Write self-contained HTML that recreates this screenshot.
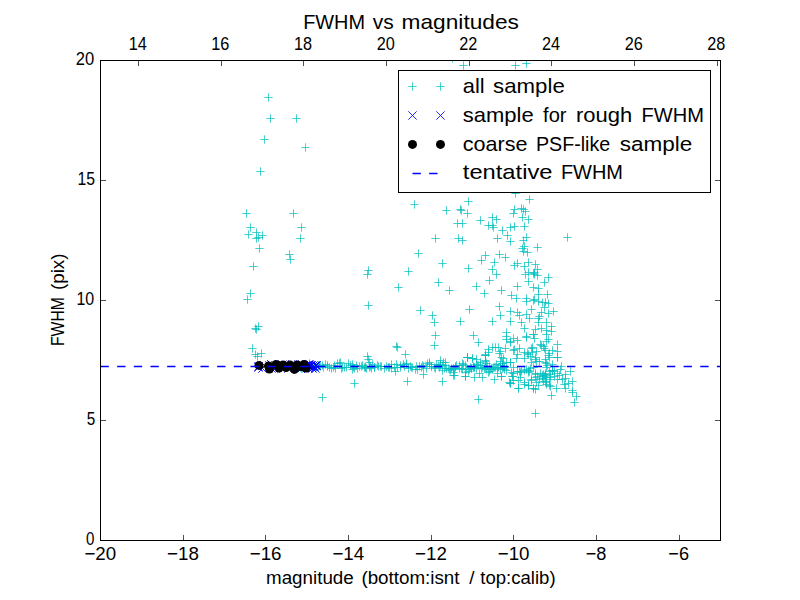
<!DOCTYPE html>
<html><head><meta charset="utf-8"><title>FWHM vs magnitudes</title>
<style>html,body{margin:0;padding:0;background:#fff;width:800px;height:600px;overflow:hidden}svg{display:block}text{font-family:"Liberation Sans",sans-serif}</style>
</head><body>
<svg width="800" height="600" viewBox="0 0 800 600">
<rect width="800" height="600" fill="#fff"/>
<defs><clipPath id="ax"><rect x="100" y="60" width="621" height="481"/></clipPath></defs>
<g clip-path="url(#ax)">
<path d="M264.3 97.5h8.33M268.5 93.3v8.33M266.3 118.5h8.33M270.5 114.3v8.33M292.3 118.5h8.33M296.5 114.3v8.33M260.3 139.5h8.33M264.5 135.3v8.33M301.3 147.5h8.33M305.5 143.3v8.33M256.3 171.5h8.33M260.5 167.3v8.33M242.3 213.5h8.33M246.5 209.3v8.33M289.3 213.5h8.33M293.5 209.3v8.33M246.3 227.5h8.33M250.5 223.3v8.33M297.3 227.5h8.33M301.5 223.3v8.33M244.3 234.5h8.33M248.5 230.3v8.33M252.3 232.5h8.33M256.5 228.3v8.33M258.3 235.5h8.33M262.5 231.3v8.33M252.3 238.5h8.33M256.5 234.3v8.33M254.3 237.5h8.33M258.5 233.3v8.33M296.3 238.5h8.33M300.5 234.3v8.33M255.3 248.5h8.33M259.5 244.3v8.33M285.3 254.5h8.33M289.5 250.3v8.33M286.3 259.5h8.33M290.5 255.3v8.33M249.3 266.5h8.33M253.5 262.3v8.33M246.3 293.5h8.33M250.5 289.3v8.33M243.3 299.5h8.33M247.5 295.3v8.33M254.3 326.5h8.33M258.5 322.3v8.33M251.3 328.5h8.33M255.5 324.3v8.33M252.3 329.5h8.33M256.5 325.3v8.33M248.3 348.5h8.33M252.5 344.3v8.33M257.3 353.5h8.33M261.5 349.3v8.33M251.3 354.5h8.33M255.5 350.3v8.33M253.3 356.5h8.33M257.5 352.3v8.33M363.3 356.5h8.33M367.5 352.3v8.33M364.3 359.5h8.33M368.5 355.3v8.33M365.3 362.5h8.33M369.5 358.3v8.33M350.3 383.5h8.33M354.5 379.3v8.33M318.3 397.5h8.33M322.5 393.3v8.33M392.3 346.5h8.33M396.5 342.3v8.33M393.3 347.5h8.33M397.5 343.3v8.33M401.3 354.5h8.33M405.5 350.3v8.33M431.3 335.5h8.33M435.5 331.3v8.33M430.3 345.5h8.33M434.5 341.3v8.33M436.3 360.5h8.33M440.5 356.3v8.33M463.3 357.5h8.33M467.5 353.3v8.33M403.3 381.5h8.33M407.5 377.3v8.33M438.3 381.5h8.33M442.5 377.3v8.33M419.3 374.5h8.33M423.5 370.3v8.33M450.3 375.5h8.33M454.5 371.3v8.33M461.3 376.5h8.33M465.5 372.3v8.33M402.3 363.5h8.33M406.5 359.3v8.33M425.3 362.5h8.33M429.5 358.3v8.33M364.3 270.5h8.33M368.5 266.3v8.33M363.3 274.5h8.33M367.5 270.3v8.33M364.3 305.5h8.33M368.5 301.3v8.33M448.3 58.5h8.33M452.5 54.3v8.33M459.3 65.5h8.33M463.5 61.3v8.33M511.3 65.5h8.33M515.5 61.3v8.33M522.3 63.5h8.33M526.5 59.3v8.33M410.3 204.5h8.33M414.5 200.3v8.33M442.3 210.5h8.33M446.5 206.3v8.33M453.3 223.5h8.33M457.5 219.3v8.33M431.3 238.5h8.33M435.5 234.3v8.33M454.3 238.5h8.33M458.5 234.3v8.33M511.3 193.5h8.33M515.5 189.3v8.33M464.3 201.5h8.33M468.5 197.3v8.33M456.3 209.5h8.33M460.5 205.3v8.33M457.3 210.5h8.33M461.5 206.3v8.33M463.3 213.5h8.33M467.5 209.3v8.33M458.3 223.5h8.33M462.5 219.3v8.33M476.3 220.5h8.33M480.5 216.3v8.33M488.3 217.5h8.33M492.5 213.3v8.33M492.3 219.5h8.33M496.5 215.3v8.33M484.3 225.5h8.33M488.5 221.3v8.33M488.3 225.5h8.33M492.5 221.3v8.33M489.3 227.5h8.33M493.5 223.3v8.33M498.3 230.5h8.33M502.5 226.3v8.33M503.3 235.5h8.33M507.5 231.3v8.33M493.3 238.5h8.33M497.5 234.3v8.33M506.3 241.5h8.33M510.5 237.3v8.33M458.3 240.5h8.33M462.5 236.3v8.33M510.3 209.5h8.33M514.5 205.3v8.33M509.3 213.5h8.33M513.5 209.3v8.33M517.3 208.5h8.33M521.5 204.3v8.33M519.3 209.5h8.33M523.5 205.3v8.33M521.3 211.5h8.33M525.5 207.3v8.33M518.3 217.5h8.33M522.5 213.3v8.33M524.3 219.5h8.33M528.5 215.3v8.33M525.3 199.5h8.33M529.5 195.3v8.33M506.3 227.5h8.33M510.5 223.3v8.33M510.3 226.5h8.33M514.5 222.3v8.33M520.3 226.5h8.33M524.5 222.3v8.33M522.3 237.5h8.33M526.5 233.3v8.33M519.3 240.5h8.33M523.5 236.3v8.33M520.3 246.5h8.33M524.5 242.3v8.33M563.3 237.5h8.33M567.5 233.3v8.33M533.3 247.5h8.33M537.5 243.3v8.33M414.3 253.5h8.33M418.5 249.3v8.33M438.3 263.5h8.33M442.5 259.3v8.33M404.3 271.5h8.33M408.5 267.3v8.33M394.3 287.5h8.33M398.5 283.3v8.33M434.3 282.5h8.33M438.5 278.3v8.33M445.3 290.5h8.33M449.5 286.3v8.33M481.3 255.5h8.33M485.5 251.3v8.33M477.3 260.5h8.33M481.5 256.3v8.33M495.3 254.5h8.33M499.5 250.3v8.33M501.3 257.5h8.33M505.5 253.3v8.33M490.3 262.5h8.33M494.5 258.3v8.33M464.3 268.5h8.33M468.5 264.3v8.33M488.3 269.5h8.33M492.5 265.3v8.33M492.3 274.5h8.33M496.5 270.3v8.33M485.3 280.5h8.33M489.5 276.3v8.33M472.3 286.5h8.33M476.5 282.3v8.33M480.3 293.5h8.33M484.5 289.3v8.33M497.3 290.5h8.33M501.5 286.3v8.33M510.3 265.5h8.33M514.5 261.3v8.33M513.3 263.5h8.33M517.5 259.3v8.33M518.3 248.5h8.33M522.5 244.3v8.33M519.3 251.5h8.33M523.5 247.3v8.33M523.3 252.5h8.33M527.5 248.3v8.33M524.3 262.5h8.33M528.5 258.3v8.33M520.3 266.5h8.33M524.5 262.3v8.33M521.3 274.5h8.33M525.5 270.3v8.33M524.3 272.5h8.33M528.5 268.3v8.33M529.3 273.5h8.33M533.5 269.3v8.33M524.3 281.5h8.33M528.5 277.3v8.33M513.3 286.5h8.33M517.5 282.3v8.33M529.3 287.5h8.33M533.5 283.3v8.33M507.3 295.5h8.33M511.5 291.3v8.33M512.3 298.5h8.33M516.5 294.3v8.33M522.3 298.5h8.33M526.5 294.3v8.33M522.3 301.5h8.33M526.5 297.3v8.33M529.3 300.5h8.33M533.5 296.3v8.33M531.3 264.5h8.33M535.5 260.3v8.33M533.3 269.5h8.33M537.5 265.3v8.33M530.3 272.5h8.33M534.5 268.3v8.33M530.3 274.5h8.33M534.5 270.3v8.33M533.3 275.5h8.33M537.5 271.3v8.33M544.3 277.5h8.33M548.5 273.3v8.33M540.3 282.5h8.33M544.5 278.3v8.33M534.3 288.5h8.33M538.5 284.3v8.33M543.3 294.5h8.33M547.5 290.3v8.33M534.3 294.5h8.33M538.5 290.3v8.33M530.3 299.5h8.33M534.5 295.3v8.33M534.3 301.5h8.33M538.5 297.3v8.33M538.3 302.5h8.33M542.5 298.3v8.33M541.3 302.5h8.33M545.5 298.3v8.33M544.3 303.5h8.33M548.5 299.3v8.33M416.3 310.5h8.33M420.5 306.3v8.33M428.3 315.5h8.33M432.5 311.3v8.33M430.3 322.5h8.33M434.5 318.3v8.33M465.3 309.5h8.33M469.5 305.3v8.33M456.3 321.5h8.33M460.5 317.3v8.33M495.3 306.5h8.33M499.5 302.3v8.33M496.3 315.5h8.33M500.5 311.3v8.33M488.3 321.5h8.33M492.5 317.3v8.33M506.3 311.5h8.33M510.5 307.3v8.33M513.3 312.5h8.33M517.5 308.3v8.33M506.3 321.5h8.33M510.5 317.3v8.33M515.3 315.5h8.33M519.5 311.3v8.33M517.3 322.5h8.33M521.5 318.3v8.33M527.3 309.5h8.33M531.5 305.3v8.33M522.3 314.5h8.33M526.5 310.3v8.33M525.3 318.5h8.33M529.5 314.3v8.33M520.3 328.5h8.33M524.5 324.3v8.33M522.3 337.5h8.33M526.5 333.3v8.33M529.3 334.5h8.33M533.5 330.3v8.33M502.3 332.5h8.33M506.5 328.3v8.33M502.3 336.5h8.33M506.5 332.3v8.33M502.3 339.5h8.33M506.5 335.3v8.33M506.3 341.5h8.33M510.5 337.3v8.33M513.3 340.5h8.33M517.5 336.3v8.33M509.3 338.5h8.33M513.5 334.3v8.33M469.3 335.5h8.33M473.5 331.3v8.33M474.3 342.5h8.33M478.5 338.3v8.33M484.3 349.5h8.33M488.5 345.3v8.33M488.3 347.5h8.33M492.5 343.3v8.33M491.3 347.5h8.33M495.5 343.3v8.33M494.3 347.5h8.33M498.5 343.3v8.33M481.3 354.5h8.33M485.5 350.3v8.33M495.3 353.5h8.33M499.5 349.3v8.33M501.3 348.5h8.33M505.5 344.3v8.33M497.3 357.5h8.33M501.5 353.3v8.33M463.3 357.5h8.33M467.5 353.3v8.33M468.3 358.5h8.33M472.5 354.3v8.33M510.3 349.5h8.33M514.5 345.3v8.33M515.3 348.5h8.33M519.5 344.3v8.33M513.3 354.5h8.33M517.5 350.3v8.33M520.3 352.5h8.33M524.5 348.3v8.33M524.3 354.5h8.33M528.5 350.3v8.33M528.3 347.5h8.33M532.5 343.3v8.33M528.3 352.5h8.33M532.5 348.3v8.33M540.3 307.5h8.33M544.5 303.3v8.33M549.3 311.5h8.33M553.5 307.3v8.33M544.3 313.5h8.33M548.5 309.3v8.33M537.3 312.5h8.33M541.5 308.3v8.33M535.3 316.5h8.33M539.5 312.3v8.33M534.3 318.5h8.33M538.5 314.3v8.33M534.3 322.5h8.33M538.5 318.3v8.33M542.3 322.5h8.33M546.5 318.3v8.33M547.3 326.5h8.33M551.5 322.3v8.33M537.3 328.5h8.33M541.5 324.3v8.33M542.3 330.5h8.33M546.5 326.3v8.33M547.3 331.5h8.33M551.5 327.3v8.33M531.3 329.5h8.33M535.5 325.3v8.33M529.3 334.5h8.33M533.5 330.3v8.33M522.3 336.5h8.33M526.5 332.3v8.33M530.3 338.5h8.33M534.5 334.3v8.33M542.3 334.5h8.33M546.5 330.3v8.33M544.3 339.5h8.33M548.5 335.3v8.33M542.3 341.5h8.33M546.5 337.3v8.33M553.3 344.5h8.33M557.5 340.3v8.33M537.3 345.5h8.33M541.5 341.3v8.33M540.3 348.5h8.33M544.5 344.3v8.33M527.3 348.5h8.33M531.5 344.3v8.33M532.3 351.5h8.33M536.5 347.3v8.33M541.3 350.5h8.33M545.5 346.3v8.33M553.3 351.5h8.33M557.5 347.3v8.33M545.3 353.5h8.33M549.5 349.3v8.33M523.3 353.5h8.33M527.5 349.3v8.33M526.3 356.5h8.33M530.5 352.3v8.33M531.3 357.5h8.33M535.5 353.3v8.33M545.3 357.5h8.33M549.5 353.3v8.33M553.3 357.5h8.33M557.5 353.3v8.33M553.3 357.5h8.33M557.5 353.3v8.33M557.3 366.5h8.33M561.5 362.3v8.33M566.3 371.5h8.33M570.5 367.3v8.33M561.3 374.5h8.33M565.5 370.3v8.33M558.3 379.5h8.33M562.5 375.3v8.33M568.3 381.5h8.33M572.5 377.3v8.33M560.3 384.5h8.33M564.5 380.3v8.33M568.3 392.5h8.33M572.5 388.3v8.33M572.3 396.5h8.33M576.5 392.3v8.33M570.3 402.5h8.33M574.5 398.3v8.33M547.3 395.5h8.33M551.5 391.3v8.33M531.3 389.5h8.33M535.5 385.3v8.33M546.3 386.5h8.33M550.5 382.3v8.33M531.3 413.5h8.33M535.5 409.3v8.33M474.3 399.5h8.33M478.5 395.3v8.33M302.3 366.5h8.33M306.5 362.3v8.33M302.3 367.5h8.33M306.5 363.3v8.33M303.3 368.5h8.33M307.5 364.3v8.33M305.3 367.5h8.33M309.5 363.3v8.33M305.3 363.5h8.33M309.5 359.3v8.33M307.3 368.5h8.33M311.5 364.3v8.33M309.3 365.5h8.33M313.5 361.3v8.33M310.3 366.5h8.33M314.5 362.3v8.33M311.3 367.5h8.33M315.5 363.3v8.33M312.3 367.5h8.33M316.5 363.3v8.33M314.3 365.5h8.33M318.5 361.3v8.33M315.3 365.5h8.33M319.5 361.3v8.33M316.3 366.5h8.33M320.5 362.3v8.33M318.3 365.5h8.33M322.5 361.3v8.33M319.3 367.5h8.33M323.5 363.3v8.33M321.3 364.5h8.33M325.5 360.3v8.33M323.3 366.5h8.33M327.5 362.3v8.33M323.3 365.5h8.33M327.5 361.3v8.33M325.3 367.5h8.33M329.5 363.3v8.33M327.3 368.5h8.33M331.5 364.3v8.33M329.3 367.5h8.33M333.5 363.3v8.33M330.3 365.5h8.33M334.5 361.3v8.33M331.3 368.5h8.33M335.5 364.3v8.33M333.3 363.5h8.33M337.5 359.3v8.33M335.3 363.5h8.33M339.5 359.3v8.33M336.3 362.5h8.33M340.5 358.3v8.33M337.3 368.5h8.33M341.5 364.3v8.33M338.3 367.5h8.33M342.5 363.3v8.33M340.3 367.5h8.33M344.5 363.3v8.33M342.3 367.5h8.33M346.5 363.3v8.33M344.3 363.5h8.33M348.5 359.3v8.33M346.3 365.5h8.33M350.5 361.3v8.33M348.3 364.5h8.33M352.5 360.3v8.33M348.3 369.5h8.33M352.5 365.3v8.33M349.3 367.5h8.33M353.5 363.3v8.33M350.3 368.5h8.33M354.5 364.3v8.33M352.3 365.5h8.33M356.5 361.3v8.33M353.3 368.5h8.33M357.5 364.3v8.33M355.3 366.5h8.33M359.5 362.3v8.33M357.3 366.5h8.33M361.5 362.3v8.33M358.3 365.5h8.33M362.5 361.3v8.33M360.3 367.5h8.33M364.5 363.3v8.33M361.3 367.5h8.33M365.5 363.3v8.33M361.3 367.5h8.33M365.5 363.3v8.33M362.3 368.5h8.33M366.5 364.3v8.33M365.3 367.5h8.33M369.5 363.3v8.33M366.3 366.5h8.33M370.5 362.3v8.33M367.3 368.5h8.33M371.5 364.3v8.33M368.3 364.5h8.33M372.5 360.3v8.33M370.3 367.5h8.33M374.5 363.3v8.33M370.3 367.5h8.33M374.5 363.3v8.33M373.3 365.5h8.33M377.5 361.3v8.33M374.3 366.5h8.33M378.5 362.3v8.33M376.3 366.5h8.33M380.5 362.3v8.33M377.3 366.5h8.33M381.5 362.3v8.33M380.3 368.5h8.33M384.5 364.3v8.33M382.3 366.5h8.33M386.5 362.3v8.33M384.3 367.5h8.33M388.5 363.3v8.33M385.3 367.5h8.33M389.5 363.3v8.33M387.3 364.5h8.33M391.5 360.3v8.33M387.3 368.5h8.33M391.5 364.3v8.33M390.3 367.5h8.33M394.5 363.3v8.33M391.3 371.5h8.33M395.5 367.3v8.33M392.3 364.5h8.33M396.5 360.3v8.33M393.3 367.5h8.33M397.5 363.3v8.33M396.3 367.5h8.33M400.5 363.3v8.33M396.3 365.5h8.33M400.5 361.3v8.33M399.3 364.5h8.33M403.5 360.3v8.33M400.3 366.5h8.33M404.5 362.3v8.33M402.3 364.5h8.33M406.5 360.3v8.33M404.3 368.5h8.33M408.5 364.3v8.33M406.3 366.5h8.33M410.5 362.3v8.33M407.3 367.5h8.33M411.5 363.3v8.33M408.3 367.5h8.33M412.5 363.3v8.33M411.3 369.5h8.33M415.5 365.3v8.33M412.3 366.5h8.33M416.5 362.3v8.33M413.3 369.5h8.33M417.5 365.3v8.33M415.3 366.5h8.33M419.5 362.3v8.33M417.3 367.5h8.33M421.5 363.3v8.33M418.3 365.5h8.33M422.5 361.3v8.33M419.3 366.5h8.33M423.5 362.3v8.33M422.3 368.5h8.33M426.5 364.3v8.33M423.3 363.5h8.33M427.5 359.3v8.33M425.3 364.5h8.33M429.5 360.3v8.33M427.3 366.5h8.33M431.5 362.3v8.33M427.3 366.5h8.33M431.5 362.3v8.33M430.3 367.5h8.33M434.5 363.3v8.33M431.3 368.5h8.33M435.5 364.3v8.33M432.3 364.5h8.33M436.5 360.3v8.33M434.3 365.5h8.33M438.5 361.3v8.33M435.3 367.5h8.33M439.5 363.3v8.33M436.3 364.5h8.33M440.5 360.3v8.33M436.3 365.5h8.33M440.5 361.3v8.33M438.3 365.5h8.33M442.5 361.3v8.33M439.3 362.5h8.33M443.5 358.3v8.33M440.3 368.5h8.33M444.5 364.3v8.33M441.3 362.5h8.33M445.5 358.3v8.33M441.3 365.5h8.33M445.5 361.3v8.33M442.3 368.5h8.33M446.5 364.3v8.33M444.3 368.5h8.33M448.5 364.3v8.33M445.3 369.5h8.33M449.5 365.3v8.33M446.3 370.5h8.33M450.5 366.3v8.33M447.3 368.5h8.33M451.5 364.3v8.33M449.3 372.5h8.33M453.5 368.3v8.33M449.3 368.5h8.33M453.5 364.3v8.33M450.3 369.5h8.33M454.5 365.3v8.33M451.3 367.5h8.33M455.5 363.3v8.33M451.3 366.5h8.33M455.5 362.3v8.33M452.3 365.5h8.33M456.5 361.3v8.33M455.3 365.5h8.33M459.5 361.3v8.33M455.3 368.5h8.33M459.5 364.3v8.33M457.3 368.5h8.33M461.5 364.3v8.33M458.3 363.5h8.33M462.5 359.3v8.33M458.3 369.5h8.33M462.5 365.3v8.33M459.3 364.5h8.33M463.5 360.3v8.33M461.3 365.5h8.33M465.5 361.3v8.33M461.3 372.5h8.33M465.5 368.3v8.33M462.3 369.5h8.33M466.5 365.3v8.33M464.3 371.5h8.33M468.5 367.3v8.33M465.3 369.5h8.33M469.5 365.3v8.33M466.3 367.5h8.33M470.5 363.3v8.33M467.3 368.5h8.33M471.5 364.3v8.33M467.3 368.5h8.33M471.5 364.3v8.33M469.3 367.5h8.33M473.5 363.3v8.33M469.3 366.5h8.33M473.5 362.3v8.33M470.3 367.5h8.33M474.5 363.3v8.33M470.3 367.5h8.33M474.5 363.3v8.33M472.3 364.5h8.33M476.5 360.3v8.33M472.3 368.5h8.33M476.5 364.3v8.33M473.3 365.5h8.33M477.5 361.3v8.33M474.3 365.5h8.33M478.5 361.3v8.33M476.3 362.5h8.33M480.5 358.3v8.33M476.3 365.5h8.33M480.5 361.3v8.33M477.3 368.5h8.33M481.5 364.3v8.33M478.3 367.5h8.33M482.5 363.3v8.33M480.3 368.5h8.33M484.5 364.3v8.33M481.3 367.5h8.33M485.5 363.3v8.33M482.3 369.5h8.33M486.5 365.3v8.33M483.3 366.5h8.33M487.5 362.3v8.33M484.3 372.5h8.33M488.5 368.3v8.33M485.3 366.5h8.33M489.5 362.3v8.33M486.3 369.5h8.33M490.5 365.3v8.33M487.3 368.5h8.33M491.5 364.3v8.33M488.3 369.5h8.33M492.5 365.3v8.33M489.3 367.5h8.33M493.5 363.3v8.33M490.3 367.5h8.33M494.5 363.3v8.33M491.3 367.5h8.33M495.5 363.3v8.33M492.3 364.5h8.33M496.5 360.3v8.33M493.3 368.5h8.33M497.5 364.3v8.33M494.3 367.5h8.33M498.5 363.3v8.33M496.3 369.5h8.33M500.5 365.3v8.33M496.3 365.5h8.33M500.5 361.3v8.33M498.3 363.5h8.33M502.5 359.3v8.33M499.3 367.5h8.33M503.5 363.3v8.33M500.3 367.5h8.33M504.5 363.3v8.33M502.3 362.5h8.33M506.5 358.3v8.33M505.3 382.5h8.33M509.5 378.3v8.33M509.3 380.5h8.33M513.5 376.3v8.33M513.3 371.5h8.33M517.5 367.3v8.33M516.3 372.5h8.33M520.5 368.3v8.33M520.3 370.5h8.33M524.5 366.3v8.33M522.3 369.5h8.33M526.5 365.3v8.33M525.3 371.5h8.33M529.5 367.3v8.33M529.3 367.5h8.33M533.5 363.3v8.33M532.3 361.5h8.33M536.5 357.3v8.33M536.3 373.5h8.33M540.5 369.3v8.33M538.3 375.5h8.33M542.5 371.3v8.33M540.3 376.5h8.33M544.5 372.3v8.33M542.3 377.5h8.33M546.5 373.3v8.33M546.3 374.5h8.33M550.5 370.3v8.33M548.3 364.5h8.33M552.5 360.3v8.33M550.3 371.5h8.33M554.5 367.3v8.33M552.3 388.5h8.33M556.5 384.3v8.33M556.3 369.5h8.33M560.5 365.3v8.33M449.3 375.5h8.33M453.5 371.3v8.33M461.3 376.5h8.33M465.5 372.3v8.33M470.3 377.5h8.33M474.5 373.3v8.33M478.3 377.5h8.33M482.5 373.3v8.33M490.3 379.5h8.33M494.5 375.3v8.33M463.3 357.5h8.33M467.5 353.3v8.33M468.3 358.5h8.33M472.5 354.3v8.33M481.3 355.5h8.33M485.5 351.3v8.33M438.3 370.5h8.33M442.5 366.3v8.33M475.3 373.5h8.33M479.5 369.3v8.33M485.3 371.5h8.33M489.5 367.3v8.33M493.3 373.5h8.33M497.5 369.3v8.33M481.3 361.5h8.33M485.5 357.3v8.33M506.3 362.5h8.33M510.5 358.3v8.33M509.3 367.5h8.33M513.5 363.3v8.33M515.3 371.5h8.33M519.5 367.3v8.33M497.3 376.5h8.33M501.5 372.3v8.33M507.3 372.5h8.33M511.5 368.3v8.33M508.3 376.5h8.33M512.5 372.3v8.33M506.3 383.5h8.33M510.5 379.3v8.33M514.3 388.5h8.33M518.5 384.3v8.33M520.3 382.5h8.33M524.5 378.3v8.33M524.3 385.5h8.33M528.5 381.3v8.33M529.3 388.5h8.33M533.5 384.3v8.33M531.3 377.5h8.33M535.5 373.3v8.33M535.3 379.5h8.33M539.5 375.3v8.33M541.3 382.5h8.33M545.5 378.3v8.33M545.3 379.5h8.33M549.5 375.3v8.33M550.3 376.5h8.33M554.5 372.3v8.33M553.3 379.5h8.33M557.5 375.3v8.33M526.3 368.5h8.33M530.5 364.3v8.33M527.3 362.5h8.33M531.5 358.3v8.33M531.3 359.5h8.33M535.5 355.3v8.33M541.3 362.5h8.33M545.5 358.3v8.33M542.3 367.5h8.33M546.5 363.3v8.33M545.3 371.5h8.33M549.5 367.3v8.33M520.3 358.5h8.33M524.5 354.3v8.33M512.3 358.5h8.33M516.5 354.3v8.33M499.3 358.5h8.33M503.5 354.3v8.33M524.3 370.5h8.33M528.5 366.3v8.33M531.3 373.5h8.33M535.5 369.3v8.33M541.3 373.5h8.33M545.5 369.3v8.33M548.3 370.5h8.33M552.5 366.3v8.33M553.3 373.5h8.33M557.5 369.3v8.33M498.3 368.5h8.33M502.5 364.3v8.33M502.3 370.5h8.33M506.5 366.3v8.33M516.3 377.5h8.33M520.5 373.3v8.33M527.3 379.5h8.33M531.5 375.3v8.33M538.3 378.5h8.33M542.5 374.3v8.33M545.3 385.5h8.33M549.5 381.3v8.33M484.3 352.5h8.33M488.5 348.3v8.33M481.3 355.5h8.33M485.5 351.3v8.33M481.3 360.5h8.33M485.5 356.3v8.33M482.3 363.5h8.33M486.5 359.3v8.33M496.3 351.5h8.33M500.5 347.3v8.33M496.3 361.5h8.33M500.5 357.3v8.33M498.3 363.5h8.33M502.5 359.3v8.33M506.3 342.5h8.33M510.5 338.3v8.33M509.3 350.5h8.33M513.5 346.3v8.33M506.3 362.5h8.33M510.5 358.3v8.33M472.3 359.5h8.33M476.5 355.3v8.33M497.3 376.5h8.33M501.5 372.3v8.33M500.3 369.5h8.33M504.5 365.3v8.33M506.3 383.5h8.33M510.5 379.3v8.33M508.3 376.5h8.33M512.5 372.3v8.33M509.3 373.5h8.33M513.5 369.3v8.33M514.3 388.5h8.33M518.5 384.3v8.33M514.3 380.5h8.33M518.5 376.3v8.33M517.3 371.5h8.33M521.5 367.3v8.33M520.3 384.5h8.33M524.5 380.3v8.33M524.3 372.5h8.33M528.5 368.3v8.33M524.3 385.5h8.33M528.5 381.3v8.33M527.3 380.5h8.33M531.5 376.3v8.33M529.3 388.5h8.33M533.5 384.3v8.33M532.3 382.5h8.33M536.5 378.3v8.33M533.3 376.5h8.33M537.5 372.3v8.33M531.3 374.5h8.33M535.5 370.3v8.33M534.3 385.5h8.33M538.5 381.3v8.33M539.3 381.5h8.33M543.5 377.3v8.33M541.3 375.5h8.33M545.5 371.3v8.33M542.3 384.5h8.33M546.5 380.3v8.33M536.3 344.5h8.33M540.5 340.3v8.33M539.3 346.5h8.33M543.5 342.3v8.33M548.3 350.5h8.33M552.5 346.3v8.33M544.3 355.5h8.33M548.5 351.3v8.33M541.3 359.5h8.33M545.5 355.3v8.33M535.3 361.5h8.33M539.5 357.3v8.33M542.3 363.5h8.33M546.5 359.3v8.33M561.3 388.5h8.33M565.5 384.3v8.33M542.3 381.5h8.33M546.5 377.3v8.33M546.3 377.5h8.33M550.5 373.3v8.33M539.3 374.5h8.33M543.5 370.3v8.33M548.3 370.5h8.33M552.5 366.3v8.33M543.3 365.5h8.33M547.5 361.3v8.33M561.3 378.5h8.33M565.5 374.3v8.33M555.3 375.5h8.33M559.5 371.3v8.33M564.3 383.5h8.33M568.5 379.3v8.33M568.3 390.5h8.33M572.5 386.3v8.33M291.3 365.5h8.33M295.5 361.3v8.33M294.3 367.5h8.33M298.5 363.3v8.33M296.3 367.5h8.33M300.5 363.3v8.33M297.3 368.5h8.33M301.5 364.3v8.33M298.3 368.5h8.33M302.5 364.3v8.33M301.3 365.5h8.33M305.5 361.3v8.33" stroke="#00bfbf" stroke-width="0.72" fill="none"/>
<path d="M254.3 362.3l8.33 8.33M254.3 370.7l8.33 -8.33M275.3 361.3l8.33 8.33M275.3 369.7l8.33 -8.33M260.3 361.3l8.33 8.33M260.3 369.7l8.33 -8.33M269.3 364.3l8.33 8.33M269.3 372.7l8.33 -8.33M254.3 363.3l8.33 8.33M254.3 371.7l8.33 -8.33M294.3 360.3l8.33 8.33M294.3 368.7l8.33 -8.33M298.3 363.3l8.33 8.33M298.3 371.7l8.33 -8.33M297.3 361.3l8.33 8.33M297.3 369.7l8.33 -8.33M271.3 361.3l8.33 8.33M271.3 369.7l8.33 -8.33M301.3 362.3l8.33 8.33M301.3 370.7l8.33 -8.33M271.3 362.3l8.33 8.33M271.3 370.7l8.33 -8.33M267.3 360.3l8.33 8.33M267.3 368.7l8.33 -8.33M258.3 364.3l8.33 8.33M258.3 372.7l8.33 -8.33M267.3 364.3l8.33 8.33M267.3 372.7l8.33 -8.33M265.3 361.3l8.33 8.33M265.3 369.7l8.33 -8.33M278.3 360.3l8.33 8.33M278.3 368.7l8.33 -8.33M271.3 364.3l8.33 8.33M271.3 372.7l8.33 -8.33M296.3 364.3l8.33 8.33M296.3 372.7l8.33 -8.33M284.3 364.3l8.33 8.33M284.3 372.7l8.33 -8.33M299.3 362.3l8.33 8.33M299.3 370.7l8.33 -8.33M288.3 360.3l8.33 8.33M288.3 368.7l8.33 -8.33M289.3 362.3l8.33 8.33M289.3 370.7l8.33 -8.33M290.3 363.3l8.33 8.33M290.3 371.7l8.33 -8.33M267.3 360.3l8.33 8.33M267.3 368.7l8.33 -8.33M298.3 360.3l8.33 8.33M298.3 368.7l8.33 -8.33M307.3 361.3l8.33 8.33M307.3 369.7l8.33 -8.33M305.3 363.3l8.33 8.33M305.3 371.7l8.33 -8.33M312.3 361.3l8.33 8.33M312.3 369.7l8.33 -8.33M309.3 361.3l8.33 8.33M309.3 369.7l8.33 -8.33M308.3 362.3l8.33 8.33M308.3 370.7l8.33 -8.33M303.3 361.3l8.33 8.33M303.3 369.7l8.33 -8.33M304.3 364.3l8.33 8.33M304.3 372.7l8.33 -8.33M307.3 361.3l8.33 8.33M307.3 369.7l8.33 -8.33M311.3 364.3l8.33 8.33M311.3 372.7l8.33 -8.33M306.3 361.3l8.33 8.33M306.3 369.7l8.33 -8.33M304.3 360.3l8.33 8.33M304.3 368.7l8.33 -8.33M305.3 360.3l8.33 8.33M305.3 368.7l8.33 -8.33M304.3 361.3l8.33 8.33M304.3 369.7l8.33 -8.33M308.3 364.3l8.33 8.33M308.3 372.7l8.33 -8.33M310.3 362.3l8.33 8.33M310.3 370.7l8.33 -8.33M306.3 362.3l8.33 8.33M306.3 370.7l8.33 -8.33M306.3 361.3l8.33 8.33M306.3 369.7l8.33 -8.33M302.3 361.3l8.33 8.33M302.3 369.7l8.33 -8.33M312.3 361.3l8.33 8.33M312.3 369.7l8.33 -8.33M307.3 363.3l8.33 8.33M307.3 371.7l8.33 -8.33M311.3 361.3l8.33 8.33M311.3 369.7l8.33 -8.33M304.3 361.3l8.33 8.33M304.3 369.7l8.33 -8.33" stroke="#0000ff" stroke-width="0.85" fill="none"/>
<g fill="#000"><circle cx="259.0" cy="365.4" r="4.5"/><circle cx="268.5" cy="366.0" r="4.5"/><circle cx="269.5" cy="369.0" r="4.5"/><circle cx="276.0" cy="364.5" r="4.5"/><circle cx="279.0" cy="368.0" r="4.5"/><circle cx="283.0" cy="365.0" r="4.5"/><circle cx="286.0" cy="367.5" r="4.5"/><circle cx="290.0" cy="365.0" r="4.5"/><circle cx="294.4" cy="369.4" r="4.5"/><circle cx="297.0" cy="365.0" r="4.5"/><circle cx="301.0" cy="366.5" r="4.5"/><circle cx="304.0" cy="364.5" r="4.5"/><circle cx="306.0" cy="368.0" r="4.5"/></g>
<line x1="100.5" y1="366.5" x2="720" y2="366.5" stroke="#0000ff" stroke-width="1.39" stroke-dasharray="8.33 8.33"/>
</g>
<g stroke="#000" stroke-width="1" fill="none"><rect x="100.5" y="60.5" width="620" height="480" fill="none"/></g>
<g stroke="#000" stroke-width="0.69" fill="none"><path d="M100.5 540.5V534.94"/><path d="M183.5 540.5V534.94"/><path d="M265.5 540.5V534.94"/><path d="M348.5 540.5V534.94"/><path d="M431.5 540.5V534.94"/><path d="M513.5 540.5V534.94"/><path d="M596.5 540.5V534.94"/><path d="M679.5 540.5V534.94"/><path d="M138.5 60.5V66.06"/><path d="M221.5 60.5V66.06"/><path d="M303.5 60.5V66.06"/><path d="M386.5 60.5V66.06"/><path d="M469.5 60.5V66.06"/><path d="M551.5 60.5V66.06"/><path d="M634.5 60.5V66.06"/><path d="M717.5 60.5V66.06"/><path d="M100.5 540.5H106.06M720.5 540.5H714.94"/><path d="M100.5 420.5H106.06M720.5 420.5H714.94"/><path d="M100.5 300.5H106.06M720.5 300.5H714.94"/><path d="M100.5 180.5H106.06M720.5 180.5H714.94"/><path d="M100.5 60.5H106.06M720.5 60.5H714.94"/></g>
<rect x="398.5" y="70.5" width="312" height="122" fill="#fff" stroke="#000" stroke-width="1"/>
<path d="M408.3 86.5h8.33M412.5 82.3v8.33M436.3 86.5h8.33M440.5 82.3v8.33" stroke="#00bfbf" stroke-width="0.72" fill="none"/>
<path d="M408.3 111.3l8.33 8.33M408.3 119.7l8.33 -8.33M436.3 111.3l8.33 8.33M436.3 119.7l8.33 -8.33" stroke="#0000ff" stroke-width="0.85" fill="none"/>
<g fill="#000"><circle cx="412.5" cy="144.4" r="4.5"/><circle cx="440.5" cy="144.4" r="4.5"/></g>
<line x1="412.5" y1="173.5" x2="440.4" y2="173.5" stroke="#0000ff" stroke-width="1.39" stroke-dasharray="8.33 8.33"/>
<g font-family="Liberation Sans, sans-serif" fill="#000"><text transform="translate(303.20,29.00) scale(0.9923,1)" font-size="20.06">FWHM</text><text transform="translate(372.70,29.00) scale(1.0470,1)" font-size="20.06">vs</text><text transform="translate(401.60,29.00) scale(1.1321,1)" font-size="20.06">magnitudes</text><text transform="translate(128.65,50.00) scale(0.8614,1)" font-size="18.90">14</text><text transform="translate(211.32,50.00) scale(0.8614,1)" font-size="18.90">16</text><text transform="translate(293.98,50.00) scale(0.8614,1)" font-size="18.90">18</text><text transform="translate(376.65,50.00) scale(0.8614,1)" font-size="18.90">20</text><text transform="translate(459.32,50.00) scale(0.8614,1)" font-size="18.90">22</text><text transform="translate(541.98,50.00) scale(0.8614,1)" font-size="18.90">24</text><text transform="translate(624.65,50.00) scale(0.8614,1)" font-size="18.90">26</text><text transform="translate(707.32,50.00) scale(0.8614,1)" font-size="18.90">28</text><text transform="translate(84.40,559.80) scale(1.0078,1)" font-size="18.60">−20</text><text transform="translate(167.07,559.80) scale(1.0078,1)" font-size="18.60">−18</text><text transform="translate(249.73,559.80) scale(1.0078,1)" font-size="18.60">−16</text><text transform="translate(332.40,559.80) scale(1.0078,1)" font-size="18.60">−14</text><text transform="translate(415.07,559.80) scale(1.0078,1)" font-size="18.60">−12</text><text transform="translate(497.73,559.80) scale(1.0078,1)" font-size="18.60">−10</text><text transform="translate(585.65,559.80) scale(0.9760,1)" font-size="18.60">−8</text><text transform="translate(668.32,559.80) scale(0.9760,1)" font-size="18.60">−6</text><text transform="translate(85.90,544.90) scale(0.8121,1)" font-size="18.60">0</text><text transform="translate(86.75,424.90) scale(0.8217,1)" font-size="18.60">5</text><text transform="translate(76.50,304.90) scale(0.8580,1)" font-size="18.60">10</text><text transform="translate(77.50,184.90) scale(0.8459,1)" font-size="18.60">15</text><text transform="translate(75.80,64.90) scale(0.8918,1)" font-size="18.60">20</text><text transform="translate(266.00,583.75) scale(0.9950,1)" font-size="18.90">magnitude</text><text transform="translate(361.40,583.75) scale(0.9938,1)" font-size="18.90">(bottom:isnt</text><text transform="translate(469.17,583.75) scale(1.0000,1)" font-size="18.90">/</text><text transform="translate(480.30,583.75) scale(0.9820,1)" font-size="18.90">top:calib)</text><text transform="translate(63.90,346.00) rotate(-90) scale(0.8569,1)" font-size="18.39">FWHM</text><text transform="translate(63.90,290.00) rotate(-90) scale(1.0212,1)" font-size="18.39">(pix)</text><text transform="translate(462.80,92.80) scale(1.1233,1)" font-size="19.48">all</text><text transform="translate(493.10,92.80) scale(1.1418,1)" font-size="19.48">sample</text><text transform="translate(462.80,121.70) scale(1.1291,1)" font-size="19.48">sample</text><text transform="translate(543.10,121.70) scale(1.0317,1)" font-size="19.48">for</text><text transform="translate(575.90,121.70) scale(1.1300,1)" font-size="19.48">rough</text><text transform="translate(641.55,121.70) scale(1.0293,1)" font-size="19.48">FWHM</text><text transform="translate(462.80,150.50) scale(1.1069,1)" font-size="19.48">coarse</text><text transform="translate(535.90,150.50) scale(1.0111,1)" font-size="19.48">PSF-like</text><text transform="translate(619.70,150.50) scale(1.1562,1)" font-size="19.48">sample</text><text transform="translate(462.80,179.20) scale(1.2184,1)" font-size="19.48">tentative</text><text transform="translate(560.90,179.20) scale(1.0252,1)" font-size="19.48">FWHM</text></g>
</svg>
</body></html>
